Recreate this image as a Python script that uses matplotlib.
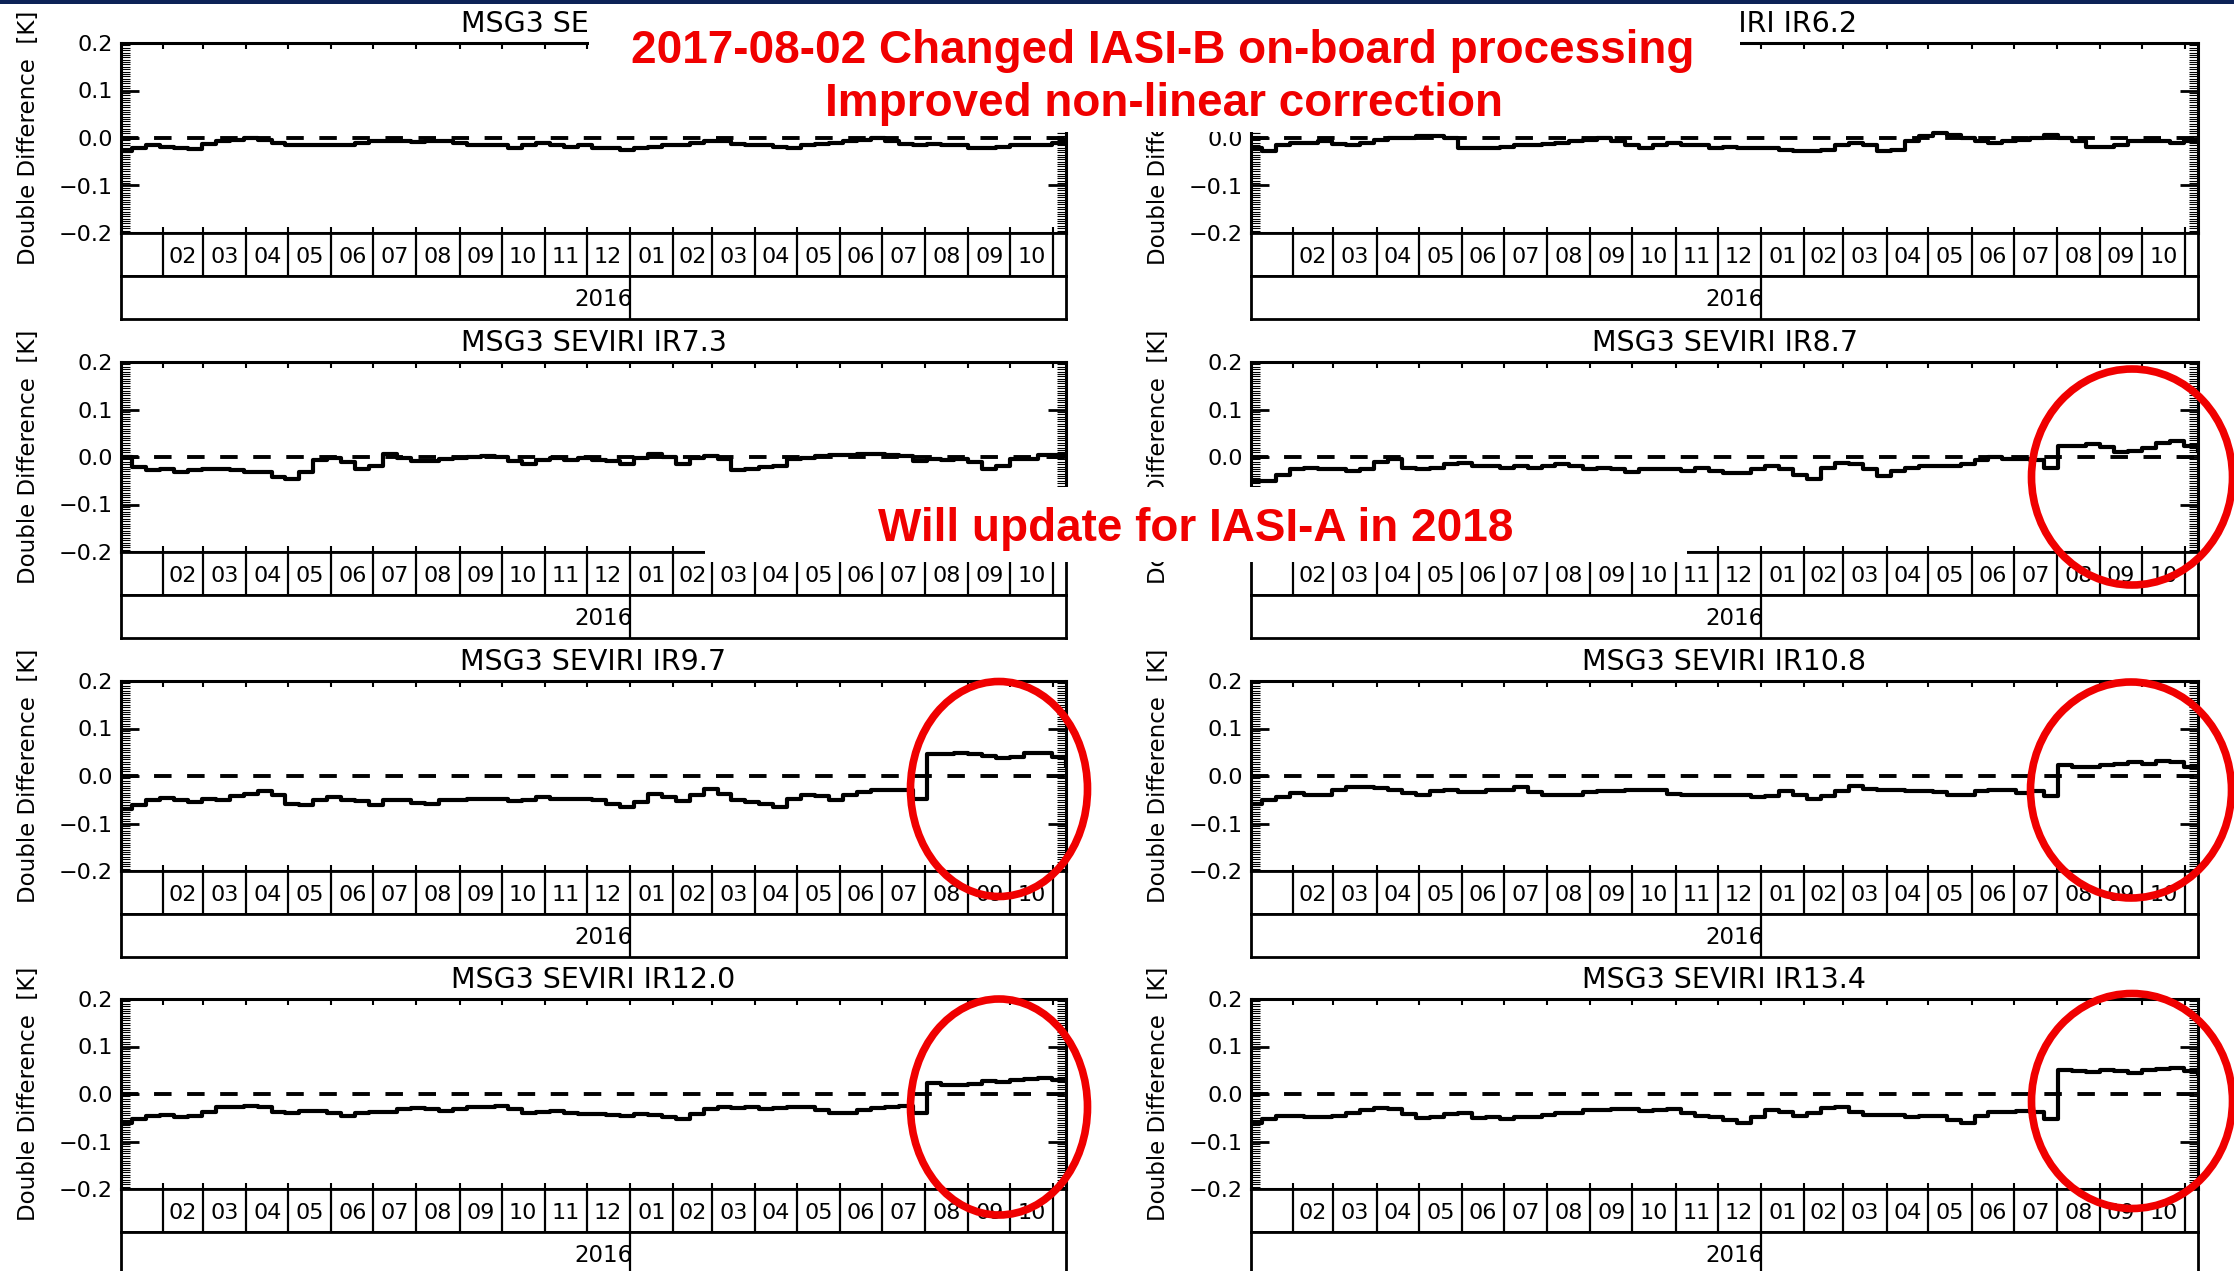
import pandas as pd
import matplotlib
matplotlib.use('Agg')
import matplotlib.pyplot as plt
import matplotlib.dates as mdates
from matplotlib.patches import Ellipse, Rectangle
from matplotlib.ticker import MultipleLocator

W, H = 2234, 1271

# 10-day samples, double difference in K
sample_dates = pd.date_range('2015-12-31', periods=69, freq='10D')

ir39 = [-0.028, -0.021, -0.015, -0.018, -0.021, -0.023, -0.013, -0.007, -0.004, -0.001,
        -0.004, -0.011, -0.015, -0.015, -0.014, -0.015, -0.014, -0.011, -0.007, -0.006,
        -0.007, -0.008, -0.006, -0.007, -0.011, -0.014, -0.015, -0.015, -0.020, -0.015,
        -0.011, -0.015, -0.018, -0.015, -0.020, -0.021, -0.025, -0.021, -0.018, -0.015,
        -0.014, -0.011, -0.006, -0.007, -0.013, -0.014, -0.015, -0.018, -0.020, -0.015,
        -0.013, -0.011, -0.007, -0.004, -0.001, -0.006, -0.013, -0.015, -0.013, -0.014,
        -0.015, -0.020, -0.021, -0.018, -0.015, -0.014, -0.015, -0.011, -0.007]
ir62 = [-0.021, -0.028, -0.014, -0.011, -0.011, -0.007, -0.013, -0.015, -0.011, -0.004,
        0.000, -0.001, 0.004, 0.004, 0.000, -0.021, -0.020, -0.021, -0.018, -0.015,
        -0.014, -0.013, -0.011, -0.007, -0.004, -0.001, -0.007, -0.015, -0.021, -0.015,
        -0.011, -0.014, -0.014, -0.020, -0.018, -0.021, -0.021, -0.021, -0.025, -0.027,
        -0.028, -0.025, -0.014, -0.011, -0.015, -0.027, -0.025, -0.007, 0.004, 0.011,
        0.007, 0.000, -0.007, -0.011, -0.007, -0.004, 0.000, 0.007, 0.000, -0.007,
        -0.018, -0.018, -0.014, -0.007, -0.006, -0.006, -0.011, -0.007, -0.004]
ir73 = [0.000, -0.021, -0.028, -0.025, -0.032, -0.028, -0.025, -0.025, -0.028, -0.032,
        -0.032, -0.042, -0.046, -0.032, -0.007, -0.002, -0.011, -0.025, -0.018, 0.007,
        -0.002, -0.009, -0.009, -0.005, -0.002, 0.000, 0.002, 0.000, -0.009, -0.014,
        -0.007, -0.002, -0.007, -0.002, -0.007, -0.009, -0.014, -0.002, 0.007, 0.000,
        -0.014, -0.002, 0.002, -0.004, -0.028, -0.025, -0.021, -0.018, -0.005, -0.002,
        0.002, 0.004, 0.005, 0.007, 0.007, 0.005, 0.002, -0.009, -0.005, -0.007,
        -0.005, -0.011, -0.025, -0.018, -0.005, -0.004, 0.004, 0.004, 0.004]
ir87 = [-0.051, -0.051, -0.037, -0.026, -0.023, -0.026, -0.026, -0.030, -0.025, -0.011,
        -0.004, -0.023, -0.026, -0.023, -0.015, -0.012, -0.019, -0.019, -0.023, -0.019,
        -0.023, -0.018, -0.015, -0.019, -0.026, -0.023, -0.026, -0.032, -0.026, -0.026,
        -0.025, -0.030, -0.023, -0.030, -0.033, -0.033, -0.026, -0.019, -0.026, -0.037,
        -0.047, -0.023, -0.012, -0.015, -0.026, -0.040, -0.030, -0.023, -0.019, -0.018,
        -0.019, -0.015, -0.006, -0.001, -0.004, -0.005, -0.006, -0.023, 0.023, 0.023,
        0.027, 0.022, 0.011, 0.013, 0.020, 0.030, 0.034, 0.023, 0.013]
ir97 = [-0.069, -0.062, -0.050, -0.046, -0.050, -0.055, -0.048, -0.050, -0.043, -0.037,
        -0.032, -0.041, -0.058, -0.062, -0.051, -0.044, -0.050, -0.053, -0.062, -0.050,
        -0.051, -0.057, -0.058, -0.050, -0.051, -0.048, -0.048, -0.048, -0.053, -0.050,
        -0.044, -0.048, -0.048, -0.048, -0.051, -0.058, -0.065, -0.055, -0.037, -0.044,
        -0.053, -0.041, -0.027, -0.037, -0.050, -0.055, -0.058, -0.065, -0.048, -0.039,
        -0.043, -0.051, -0.041, -0.034, -0.030, -0.029, -0.030, -0.048, 0.046, 0.047,
        0.049, 0.046, 0.042, 0.037, 0.040, 0.049, 0.049, 0.040, 0.023]
ir108 = [-0.058, -0.051, -0.044, -0.036, -0.039, -0.039, -0.030, -0.023, -0.023, -0.025,
         -0.030, -0.036, -0.041, -0.032, -0.030, -0.034, -0.034, -0.030, -0.029, -0.023,
         -0.034, -0.039, -0.039, -0.039, -0.034, -0.032, -0.032, -0.029, -0.030, -0.030,
         -0.037, -0.039, -0.039, -0.041, -0.041, -0.041, -0.044, -0.043, -0.032, -0.039,
         -0.048, -0.043, -0.032, -0.022, -0.027, -0.029, -0.030, -0.032, -0.032, -0.034,
         -0.039, -0.039, -0.032, -0.030, -0.030, -0.036, -0.032, -0.043, 0.023, 0.019,
         0.018, 0.023, 0.026, 0.030, 0.026, 0.032, 0.030, 0.020, 0.018]
ir120 = [-0.060, -0.053, -0.046, -0.044, -0.048, -0.046, -0.037, -0.028, -0.027, -0.025,
         -0.028, -0.037, -0.041, -0.035, -0.035, -0.039, -0.046, -0.039, -0.037, -0.037,
         -0.032, -0.030, -0.032, -0.035, -0.032, -0.028, -0.027, -0.025, -0.032, -0.039,
         -0.037, -0.035, -0.039, -0.042, -0.042, -0.044, -0.046, -0.042, -0.044, -0.048,
         -0.053, -0.042, -0.032, -0.028, -0.030, -0.028, -0.032, -0.030, -0.027, -0.028,
         -0.034, -0.039, -0.041, -0.034, -0.030, -0.028, -0.025, -0.039, 0.023, 0.020,
         0.020, 0.021, 0.028, 0.025, 0.030, 0.032, 0.034, 0.030, 0.028]
ir134 = [-0.060, -0.053, -0.046, -0.046, -0.048, -0.048, -0.046, -0.041, -0.034, -0.030,
         -0.032, -0.042, -0.051, -0.049, -0.042, -0.041, -0.051, -0.049, -0.053, -0.049,
         -0.048, -0.044, -0.041, -0.039, -0.034, -0.034, -0.032, -0.032, -0.035, -0.034,
         -0.032, -0.041, -0.046, -0.049, -0.055, -0.060, -0.048, -0.034, -0.037, -0.046,
         -0.039, -0.030, -0.028, -0.037, -0.044, -0.044, -0.044, -0.048, -0.046, -0.046,
         -0.055, -0.060, -0.046, -0.037, -0.037, -0.035, -0.037, -0.053, 0.051, 0.048,
         0.046, 0.051, 0.048, 0.044, 0.051, 0.053, 0.055, 0.049, 0.042]

titles = ['MSG3 SEVIRI IR3.9', 'MSG3 SEVIRI IR6.2', 'MSG3 SEVIRI IR7.3', 'MSG3 SEVIRI IR8.7',
          'MSG3 SEVIRI IR9.7', 'MSG3 SEVIRI IR10.8', 'MSG3 SEVIRI IR12.0', 'MSG3 SEVIRI IR13.4']
series = [ir39, ir62, ir73, ir87, ir97, ir108, ir120, ir134]

month_labels = ['02', '03', '04', '05', '06', '07', '08', '09', '10', '11', '12',
                '01', '02', '03', '04', '05', '06', '07', '08', '09', '10']
year_label = '2016'
y_ticks = [-0.2, -0.1, 0.0, 0.1, 0.2]
y_tick_labels = ['\u22120.2', '\u22120.1', '0.0', '0.1', '0.2']

x_start = pd.Timestamp('2016-01-02')
x_end = pd.Timestamp('2017-11-10')
month_starts = pd.date_range('2016-02-01', '2017-11-01', freq='MS')
month_mids = [a + (b - a) / 2 for a, b in zip(month_starts[:-1], month_starts[1:])]
year_break = pd.Timestamp('2017-01-01')

note_top = ['2017-08-02 Changed IASI-B on-board processing', 'Improved non-linear correction']
note_mid = 'Will update for IASI-A in 2018'

fig = plt.figure(figsize=(W / 100, H / 100), dpi=100)

col_x = [121, 1251]
col_w = [945, 947]
row_top = [43, 362, 681, 999]
ph, bh = 190, 43


def ax_rect(x0, top, w, h):
    return [x0 / W, 1 - (top + h) / H, w / W, h / H]


def draw_panel(i):
    r, c = divmod(i, 2)
    x0, w, top = col_x[c], col_w[c], row_top[r]

    ax = fig.add_axes(ax_rect(x0, top, w, ph))
    ax.axhline(0, color='k', lw=2.8, dashes=(4.5, 4))
    ax.plot(sample_dates, series[i], color='k', lw=3.0, drawstyle='steps-post')
    ax.set_xlim(x_start, x_end)
    ax.set_ylim(-0.2, 0.2)
    ax.xaxis.set_major_locator(mdates.MonthLocator())
    ax.tick_params(axis='x', which='major', direction='in', top=True, bottom=True,
                   length=4, width=1.5, labelbottom=False)
    ax.set_yticks(y_ticks, y_tick_labels)
    ax.yaxis.set_minor_locator(MultipleLocator(0.005))
    ax.tick_params(axis='y', which='major', direction='in', left=True, right=True,
                   length=13, width=2, labelsize=16, pad=6)
    ax.tick_params(axis='y', which='minor', direction='in', left=True, right=True,
                   length=6.5, width=0.8)
    for s in ax.spines.values():
        s.set_linewidth(2.2)
    ax.set_title(titles[i], fontsize=20.5, pad=8)
    ax.set_ylabel('Double Difference  [K]', fontsize=16.5)
    ax.yaxis.set_label_coords(-0.086, 0.5)

    # month box
    mb = fig.add_axes(ax_rect(x0, top + ph, w, bh))
    mb.set_xlim(x_start, x_end)
    mb.set_ylim(0, 1)
    mb.set_xticks([])
    mb.set_yticks([])
    for d in month_starts:
        mb.axvline(d, color='k', lw=1.6)
    for d, lab in zip(month_mids, month_labels):
        mb.text(d, 0.45, lab, ha='center', va='center', fontsize=16)
    for s in mb.spines.values():
        s.set_linewidth(2)

    # year box
    yb = fig.add_axes(ax_rect(x0, top + ph + bh, w, bh))
    yb.set_xlim(x_start, x_end)
    yb.set_ylim(0, 1)
    yb.set_xticks([])
    yb.set_yticks([])
    yb.axvline(year_break, color='k', lw=1.6)
    yb.text(year_break + pd.Timedelta(days=2), 0.45, year_label, ha='right', va='center', fontsize=16.5)
    for s in yb.spines.values():
        s.set_linewidth(2)


for i in range(8):
    draw_panel(i)


def frect(x0, y0, x1, y1, color):
    fig.add_artist(Rectangle((x0 / W, 1 - y1 / H), (x1 - x0) / W, (y1 - y0) / H,
                             transform=fig.transFigure, facecolor=color, edgecolor='none', zorder=5))


# overlays
frect(0, 0, W, 4, '#0d2257')
frect(589, 4, 1740, 132, 'white')
frect(705, 487, 1687, 562, 'white')

red = '#f00000'
font_red = dict(color=red, fontsize=33, fontweight='bold', family=['Liberation Sans', 'DejaVu Sans'],
                ha='center', va='center', zorder=6)
fig.text(1163 / W, 1 - 51 / H, note_top[0], **font_red)
fig.text(1164 / W, 1 - 104 / H, note_top[1], **font_red)
fig.text(1196 / W, 1 - 529 / H, note_mid, **font_red)

for cx, cy, ew, eh in [(2132, 477, 201, 216), (999, 789, 177, 215), (2131, 790, 201, 216),
                       (999, 1107, 177, 216), (2132, 1101, 201, 215)]:
    fig.add_artist(Ellipse((cx / W, 1 - cy / H), ew / W, eh / H, transform=fig.transFigure,
                           fill=False, edgecolor=red, lw=5.5, zorder=7))

fig.savefig('out.png', dpi=100)
